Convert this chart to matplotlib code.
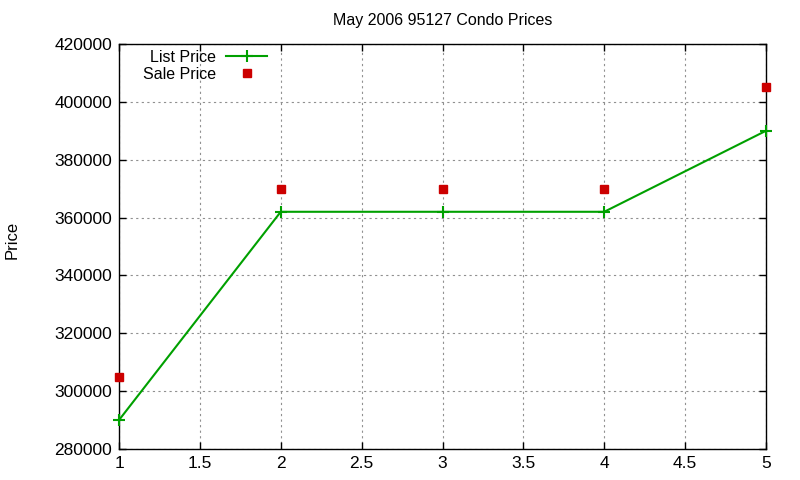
import matplotlib
matplotlib.use("Agg")
import matplotlib.pyplot as plt

plt.rcParams['font.family'] = ['Liberation Sans', 'DejaVu Sans']

months = [1, 2, 3, 4, 5]
list_price = [290000, 362000, 362000, 362000, 390000]
sale_price = [305000, 370000, 370000, 370000, 405000]

fig = plt.figure(figsize=(8, 4.8), dpi=100)
ax = fig.add_axes([119 / 800, 31 / 480, 647 / 800, 405 / 480])

ax.plot(months, list_price, color='#00a000', lw=1.5, marker='+', ms=8, mew=1.5,
        label='List Price', clip_on=False, zorder=3)
ax.plot(months, sale_price, ls='none', marker='s', ms=6, color='#cc0000',
        label='Sale Price', clip_on=False, zorder=3)

ax.set_xlim(1, 5)
ax.set_ylim(280000, 420000)
ax.set_xticks([1, 1.5, 2, 2.5, 3, 3.5, 4, 4.5, 5])
ax.set_xticklabels(['1', '1.5', '2', '2.5', '3', '3.5', '4', '4.5', '5'])
ax.set_yticks(range(280000, 420001, 20000))
ax.ticklabel_format(axis='y', style='plain', useOffset=False)

ax.grid(True, color='#909090', ls=(0, (2, 3)), lw=0.8)
ax.tick_params(direction='in', length=5, top=True, right=True, labelsize=12.5,
               width=1, pad=5)
for s in ax.spines.values():
    s.set_linewidth(1)

ax.set_title('May 2006 95127 Condo Prices', fontsize=11.5, pad=14)
fig.text(12 / 800, 0.5, 'Price', rotation=90, va='center', ha='center', fontsize=12)

leg = ax.legend(loc='upper left', bbox_to_anchor=(0.025, 1.005), frameon=False,
                markerfirst=False, fontsize=11.5, handlelength=2.6,
                borderaxespad=0.1, labelspacing=0.12, handletextpad=0.6)
for t in leg.get_texts():
    t.set_ha('right')

fig.savefig('out.png', dpi=100)
